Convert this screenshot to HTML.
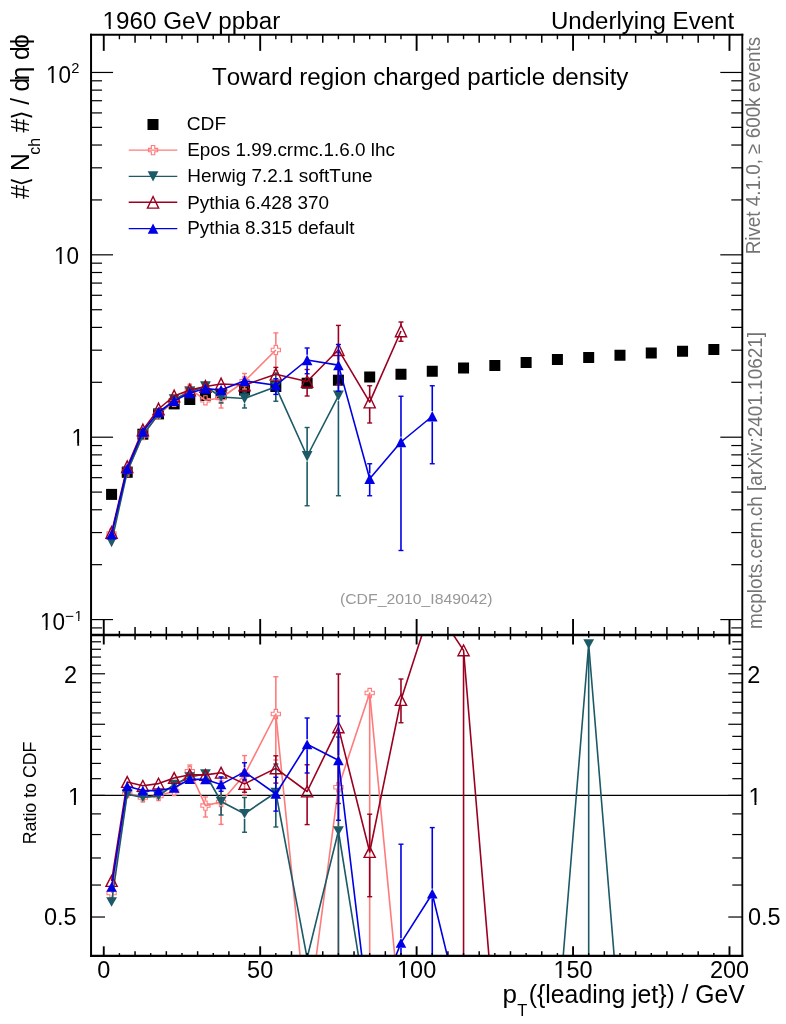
<!DOCTYPE html>
<html lang="en"><head><meta charset="utf-8"><title>Toward region charged particle density</title>
<style>html,body{margin:0;padding:0;background:#fff}svg{display:block}text{font-kerning:none}</style></head>
<body>
<svg width="786" height="1024" viewBox="0 0 786 1024" font-family="'Liberation Sans', 'DejaVu Sans', sans-serif">
<rect width="786" height="1024" fill="#fff"/>
<defs><clipPath id="cm"><rect x="91.05" y="34.85" width="651.25" height="600.15"/></clipPath><clipPath id="cr"><rect x="91.05" y="635.0" width="651.25" height="320.9"/></clipPath></defs>
<g id="main">
<rect x="106.08" y="488.90" width="11.00" height="11.00" fill="#000"/>
<rect x="121.72" y="466.80" width="11.00" height="11.00" fill="#000"/>
<rect x="137.37" y="428.70" width="11.00" height="11.00" fill="#000"/>
<rect x="153.01" y="408.40" width="11.00" height="11.00" fill="#000"/>
<rect x="168.65" y="398.40" width="11.00" height="11.00" fill="#000"/>
<rect x="184.30" y="394.00" width="11.00" height="11.00" fill="#000"/>
<rect x="199.94" y="390.00" width="11.00" height="11.00" fill="#000"/>
<rect x="215.58" y="388.50" width="11.00" height="11.00" fill="#000"/>
<rect x="239.05" y="384.50" width="11.00" height="11.00" fill="#000"/>
<rect x="270.33" y="381.00" width="11.00" height="11.00" fill="#000"/>
<rect x="301.62" y="377.70" width="11.00" height="11.00" fill="#000"/>
<rect x="332.91" y="374.70" width="11.00" height="11.00" fill="#000"/>
<rect x="364.19" y="371.50" width="11.00" height="11.00" fill="#000"/>
<rect x="395.48" y="368.75" width="11.00" height="11.00" fill="#000"/>
<rect x="426.76" y="365.75" width="11.00" height="11.00" fill="#000"/>
<rect x="458.05" y="362.50" width="11.00" height="11.00" fill="#000"/>
<rect x="489.33" y="360.00" width="11.00" height="11.00" fill="#000"/>
<rect x="520.62" y="357.00" width="11.00" height="11.00" fill="#000"/>
<rect x="551.91" y="354.00" width="11.00" height="11.00" fill="#000"/>
<rect x="583.19" y="352.00" width="11.00" height="11.00" fill="#000"/>
<rect x="614.48" y="349.75" width="11.00" height="11.00" fill="#000"/>
<rect x="645.76" y="347.50" width="11.00" height="11.00" fill="#000"/>
<rect x="677.05" y="345.75" width="11.00" height="11.00" fill="#000"/>
<rect x="708.34" y="344.00" width="11.00" height="11.00" fill="#000"/>
<polyline points="111.58,533.50 127.22,471.50 142.87,435.20 158.51,414.20 174.15,401.90 189.80,388.60 205.44,400.30 221.08,398.00 244.55,381.25 275.83,350.00" fill="none" stroke="#FF7B7B" stroke-width="1.6" stroke-linejoin="round" clip-path="url(#cm)"/>
<line x1="221.08" y1="388.50" x2="221.08" y2="392.70" stroke="#FF7B7B" stroke-width="1.6" clip-path="url(#cm)"/>
<line x1="218.58" y1="388.50" x2="223.58" y2="388.50" stroke="#FF7B7B" stroke-width="1.4"/>
<line x1="221.08" y1="403.30" x2="221.08" y2="408.00" stroke="#FF7B7B" stroke-width="1.6" clip-path="url(#cm)"/>
<line x1="218.58" y1="408.00" x2="223.58" y2="408.00" stroke="#FF7B7B" stroke-width="1.4"/>
<line x1="244.55" y1="373.50" x2="244.55" y2="375.95" stroke="#FF7B7B" stroke-width="1.6" clip-path="url(#cm)"/>
<line x1="242.05" y1="373.50" x2="247.05" y2="373.50" stroke="#FF7B7B" stroke-width="1.4"/>
<line x1="244.55" y1="386.55" x2="244.55" y2="389.00" stroke="#FF7B7B" stroke-width="1.6" clip-path="url(#cm)"/>
<line x1="242.05" y1="389.00" x2="247.05" y2="389.00" stroke="#FF7B7B" stroke-width="1.4"/>
<line x1="275.83" y1="332.90" x2="275.83" y2="344.70" stroke="#FF7B7B" stroke-width="1.6" clip-path="url(#cm)"/>
<line x1="273.33" y1="332.90" x2="278.33" y2="332.90" stroke="#FF7B7B" stroke-width="1.4"/>
<line x1="275.83" y1="355.30" x2="275.83" y2="370.50" stroke="#FF7B7B" stroke-width="1.6" clip-path="url(#cm)"/>
<line x1="273.33" y1="370.50" x2="278.33" y2="370.50" stroke="#FF7B7B" stroke-width="1.4"/>
<path d="M109.88 528.90H113.28V531.80H116.18V535.20H113.28V538.10H109.88V535.20H106.98V531.80H109.88Z" fill="none" stroke="#FF7B7B" stroke-width="1.1"/>
<path d="M125.52 466.90H128.92V469.80H131.82V473.20H128.92V476.10H125.52V473.20H122.62V469.80H125.52Z" fill="none" stroke="#FF7B7B" stroke-width="1.1"/>
<path d="M141.17 430.60H144.57V433.50H147.47V436.90H144.57V439.80H141.17V436.90H138.27V433.50H141.17Z" fill="none" stroke="#FF7B7B" stroke-width="1.1"/>
<path d="M156.81 409.60H160.21V412.50H163.11V415.90H160.21V418.80H156.81V415.90H153.91V412.50H156.81Z" fill="none" stroke="#FF7B7B" stroke-width="1.1"/>
<path d="M172.45 397.30H175.85V400.20H178.75V403.60H175.85V406.50H172.45V403.60H169.55V400.20H172.45Z" fill="none" stroke="#FF7B7B" stroke-width="1.1"/>
<path d="M188.10 384.00H191.50V386.90H194.40V390.30H191.50V393.20H188.10V390.30H185.20V386.90H188.10Z" fill="none" stroke="#FF7B7B" stroke-width="1.1"/>
<path d="M203.74 395.70H207.14V398.60H210.04V402.00H207.14V404.90H203.74V402.00H200.84V398.60H203.74Z" fill="none" stroke="#FF7B7B" stroke-width="1.1"/>
<path d="M219.38 393.40H222.78V396.30H225.68V399.70H222.78V402.60H219.38V399.70H216.48V396.30H219.38Z" fill="none" stroke="#FF7B7B" stroke-width="1.1"/>
<path d="M242.85 376.65H246.25V379.55H249.15V382.95H246.25V385.85H242.85V382.95H239.95V379.55H242.85Z" fill="none" stroke="#FF7B7B" stroke-width="1.1"/>
<path d="M274.13 345.40H277.53V348.30H280.43V351.70H277.53V354.60H274.13V351.70H271.23V348.30H274.13Z" fill="none" stroke="#FF7B7B" stroke-width="1.1"/>
<polyline points="111.58,542.00 127.22,471.80 142.87,435.10 158.51,414.20 174.15,399.50 189.80,391.80 205.44,386.50 221.08,397.00 244.55,398.50 275.83,386.80 307.12,456.25 338.41,395.80" fill="none" stroke="#1B5A66" stroke-width="1.6" stroke-linejoin="round" clip-path="url(#cm)"/>
<line x1="221.08" y1="391.00" x2="221.08" y2="391.70" stroke="#1B5A66" stroke-width="1.6" clip-path="url(#cm)"/>
<line x1="218.58" y1="391.00" x2="223.58" y2="391.00" stroke="#1B5A66" stroke-width="1.4"/>
<line x1="221.08" y1="402.30" x2="221.08" y2="403.00" stroke="#1B5A66" stroke-width="1.6" clip-path="url(#cm)"/>
<line x1="218.58" y1="403.00" x2="223.58" y2="403.00" stroke="#1B5A66" stroke-width="1.4"/>
<line x1="244.55" y1="392.00" x2="244.55" y2="393.20" stroke="#1B5A66" stroke-width="1.6" clip-path="url(#cm)"/>
<line x1="242.05" y1="392.00" x2="247.05" y2="392.00" stroke="#1B5A66" stroke-width="1.4"/>
<line x1="244.55" y1="403.80" x2="244.55" y2="408.00" stroke="#1B5A66" stroke-width="1.6" clip-path="url(#cm)"/>
<line x1="242.05" y1="408.00" x2="247.05" y2="408.00" stroke="#1B5A66" stroke-width="1.4"/>
<line x1="275.83" y1="373.00" x2="275.83" y2="381.50" stroke="#1B5A66" stroke-width="1.6" clip-path="url(#cm)"/>
<line x1="273.33" y1="373.00" x2="278.33" y2="373.00" stroke="#1B5A66" stroke-width="1.4"/>
<line x1="275.83" y1="392.10" x2="275.83" y2="401.25" stroke="#1B5A66" stroke-width="1.6" clip-path="url(#cm)"/>
<line x1="273.33" y1="401.25" x2="278.33" y2="401.25" stroke="#1B5A66" stroke-width="1.4"/>
<line x1="307.12" y1="427.50" x2="307.12" y2="450.95" stroke="#1B5A66" stroke-width="1.6" clip-path="url(#cm)"/>
<line x1="304.62" y1="427.50" x2="309.62" y2="427.50" stroke="#1B5A66" stroke-width="1.4"/>
<line x1="307.12" y1="461.55" x2="307.12" y2="505.75" stroke="#1B5A66" stroke-width="1.6" clip-path="url(#cm)"/>
<line x1="304.62" y1="505.75" x2="309.62" y2="505.75" stroke="#1B5A66" stroke-width="1.4"/>
<line x1="338.41" y1="352.60" x2="338.41" y2="390.50" stroke="#1B5A66" stroke-width="1.6" clip-path="url(#cm)"/>
<line x1="335.91" y1="352.60" x2="340.91" y2="352.60" stroke="#1B5A66" stroke-width="1.4"/>
<line x1="338.41" y1="401.10" x2="338.41" y2="495.75" stroke="#1B5A66" stroke-width="1.6" clip-path="url(#cm)"/>
<line x1="335.91" y1="495.75" x2="340.91" y2="495.75" stroke="#1B5A66" stroke-width="1.4"/>
<path d="M106.18 536.80L116.98 536.80L111.58 547.20Z" fill="#1B5A66"/>
<path d="M121.82 466.60L132.62 466.60L127.22 477.00Z" fill="#1B5A66"/>
<path d="M137.47 429.90L148.27 429.90L142.87 440.30Z" fill="#1B5A66"/>
<path d="M153.11 409.00L163.91 409.00L158.51 419.40Z" fill="#1B5A66"/>
<path d="M168.75 394.30L179.55 394.30L174.15 404.70Z" fill="#1B5A66"/>
<path d="M184.40 386.60L195.20 386.60L189.80 397.00Z" fill="#1B5A66"/>
<path d="M200.04 381.30L210.84 381.30L205.44 391.70Z" fill="#1B5A66"/>
<path d="M215.68 391.80L226.48 391.80L221.08 402.20Z" fill="#1B5A66"/>
<path d="M239.15 393.30L249.95 393.30L244.55 403.70Z" fill="#1B5A66"/>
<path d="M270.43 381.60L281.23 381.60L275.83 392.00Z" fill="#1B5A66"/>
<path d="M301.72 451.05L312.52 451.05L307.12 461.45Z" fill="#1B5A66"/>
<path d="M333.01 390.60L343.81 390.60L338.41 401.00Z" fill="#1B5A66"/>
<polyline points="111.58,532.50 127.22,466.75 142.87,429.90 158.51,409.00 174.15,396.00 189.80,390.00 205.44,386.50 221.08,384.00 244.55,385.00 275.83,374.30 307.12,381.50 338.41,349.70 369.69,402.10 400.98,331.00" fill="none" stroke="#9B0020" stroke-width="1.6" stroke-linejoin="round" clip-path="url(#cm)"/>
<line x1="275.83" y1="367.40" x2="275.83" y2="369.00" stroke="#9B0020" stroke-width="1.6" clip-path="url(#cm)"/>
<line x1="273.33" y1="367.40" x2="278.33" y2="367.40" stroke="#9B0020" stroke-width="1.4"/>
<line x1="275.83" y1="379.60" x2="275.83" y2="381.20" stroke="#9B0020" stroke-width="1.6" clip-path="url(#cm)"/>
<line x1="273.33" y1="381.20" x2="278.33" y2="381.20" stroke="#9B0020" stroke-width="1.4"/>
<line x1="307.12" y1="369.50" x2="307.12" y2="376.20" stroke="#9B0020" stroke-width="1.6" clip-path="url(#cm)"/>
<line x1="304.62" y1="369.50" x2="309.62" y2="369.50" stroke="#9B0020" stroke-width="1.4"/>
<line x1="307.12" y1="386.80" x2="307.12" y2="396.00" stroke="#9B0020" stroke-width="1.6" clip-path="url(#cm)"/>
<line x1="304.62" y1="396.00" x2="309.62" y2="396.00" stroke="#9B0020" stroke-width="1.4"/>
<line x1="338.41" y1="325.40" x2="338.41" y2="344.40" stroke="#9B0020" stroke-width="1.6" clip-path="url(#cm)"/>
<line x1="335.91" y1="325.40" x2="340.91" y2="325.40" stroke="#9B0020" stroke-width="1.4"/>
<line x1="338.41" y1="355.00" x2="338.41" y2="384.30" stroke="#9B0020" stroke-width="1.6" clip-path="url(#cm)"/>
<line x1="335.91" y1="384.30" x2="340.91" y2="384.30" stroke="#9B0020" stroke-width="1.4"/>
<line x1="369.69" y1="385.75" x2="369.69" y2="396.80" stroke="#9B0020" stroke-width="1.6" clip-path="url(#cm)"/>
<line x1="367.19" y1="385.75" x2="372.19" y2="385.75" stroke="#9B0020" stroke-width="1.4"/>
<line x1="369.69" y1="407.40" x2="369.69" y2="423.00" stroke="#9B0020" stroke-width="1.6" clip-path="url(#cm)"/>
<line x1="367.19" y1="423.00" x2="372.19" y2="423.00" stroke="#9B0020" stroke-width="1.4"/>
<line x1="400.98" y1="322.00" x2="400.98" y2="325.70" stroke="#9B0020" stroke-width="1.6" clip-path="url(#cm)"/>
<line x1="398.48" y1="322.00" x2="403.48" y2="322.00" stroke="#9B0020" stroke-width="1.4"/>
<line x1="400.98" y1="336.30" x2="400.98" y2="341.25" stroke="#9B0020" stroke-width="1.6" clip-path="url(#cm)"/>
<line x1="398.48" y1="341.25" x2="403.48" y2="341.25" stroke="#9B0020" stroke-width="1.4"/>
<path d="M105.98 538.30L117.18 538.30L111.58 526.70Z" fill="none" stroke="#9B0020" stroke-width="1.4" stroke-linejoin="miter"/>
<path d="M121.62 472.55L132.82 472.55L127.22 460.95Z" fill="none" stroke="#9B0020" stroke-width="1.4" stroke-linejoin="miter"/>
<path d="M137.27 435.70L148.47 435.70L142.87 424.10Z" fill="none" stroke="#9B0020" stroke-width="1.4" stroke-linejoin="miter"/>
<path d="M152.91 414.80L164.11 414.80L158.51 403.20Z" fill="none" stroke="#9B0020" stroke-width="1.4" stroke-linejoin="miter"/>
<path d="M168.55 401.80L179.75 401.80L174.15 390.20Z" fill="none" stroke="#9B0020" stroke-width="1.4" stroke-linejoin="miter"/>
<path d="M184.20 395.80L195.40 395.80L189.80 384.20Z" fill="none" stroke="#9B0020" stroke-width="1.4" stroke-linejoin="miter"/>
<path d="M199.84 392.30L211.04 392.30L205.44 380.70Z" fill="none" stroke="#9B0020" stroke-width="1.4" stroke-linejoin="miter"/>
<path d="M215.48 389.80L226.68 389.80L221.08 378.20Z" fill="none" stroke="#9B0020" stroke-width="1.4" stroke-linejoin="miter"/>
<path d="M238.95 390.80L250.15 390.80L244.55 379.20Z" fill="none" stroke="#9B0020" stroke-width="1.4" stroke-linejoin="miter"/>
<path d="M270.23 380.10L281.43 380.10L275.83 368.50Z" fill="none" stroke="#9B0020" stroke-width="1.4" stroke-linejoin="miter"/>
<path d="M301.52 387.30L312.72 387.30L307.12 375.70Z" fill="none" stroke="#9B0020" stroke-width="1.4" stroke-linejoin="miter"/>
<path d="M332.81 355.50L344.01 355.50L338.41 343.90Z" fill="none" stroke="#9B0020" stroke-width="1.4" stroke-linejoin="miter"/>
<path d="M364.09 407.90L375.29 407.90L369.69 396.30Z" fill="none" stroke="#9B0020" stroke-width="1.4" stroke-linejoin="miter"/>
<path d="M395.38 336.80L406.58 336.80L400.98 325.20Z" fill="none" stroke="#9B0020" stroke-width="1.4" stroke-linejoin="miter"/>
<polyline points="111.58,534.40 127.22,468.60 142.87,431.60 158.51,412.00 174.15,400.90 189.80,393.00 205.44,388.60 221.08,390.00 244.55,380.80 275.83,385.30 307.12,360.00 338.41,365.10 369.69,478.75 400.98,442.00 432.26,416.25" fill="none" stroke="#0000E6" stroke-width="1.6" stroke-linejoin="round" clip-path="url(#cm)"/>
<line x1="275.83" y1="378.75" x2="275.83" y2="380.00" stroke="#0000E6" stroke-width="1.6" clip-path="url(#cm)"/>
<line x1="273.33" y1="378.75" x2="278.33" y2="378.75" stroke="#0000E6" stroke-width="1.4"/>
<line x1="275.83" y1="390.60" x2="275.83" y2="394.40" stroke="#0000E6" stroke-width="1.6" clip-path="url(#cm)"/>
<line x1="273.33" y1="394.40" x2="278.33" y2="394.40" stroke="#0000E6" stroke-width="1.4"/>
<line x1="307.12" y1="348.00" x2="307.12" y2="354.70" stroke="#0000E6" stroke-width="1.6" clip-path="url(#cm)"/>
<line x1="304.62" y1="348.00" x2="309.62" y2="348.00" stroke="#0000E6" stroke-width="1.4"/>
<line x1="307.12" y1="365.30" x2="307.12" y2="373.75" stroke="#0000E6" stroke-width="1.6" clip-path="url(#cm)"/>
<line x1="304.62" y1="373.75" x2="309.62" y2="373.75" stroke="#0000E6" stroke-width="1.4"/>
<line x1="338.41" y1="344.50" x2="338.41" y2="359.80" stroke="#0000E6" stroke-width="1.6" clip-path="url(#cm)"/>
<line x1="335.91" y1="344.50" x2="340.91" y2="344.50" stroke="#0000E6" stroke-width="1.4"/>
<line x1="338.41" y1="370.40" x2="338.41" y2="391.30" stroke="#0000E6" stroke-width="1.6" clip-path="url(#cm)"/>
<line x1="335.91" y1="391.30" x2="340.91" y2="391.30" stroke="#0000E6" stroke-width="1.4"/>
<line x1="369.69" y1="463.75" x2="369.69" y2="473.45" stroke="#0000E6" stroke-width="1.6" clip-path="url(#cm)"/>
<line x1="367.19" y1="463.75" x2="372.19" y2="463.75" stroke="#0000E6" stroke-width="1.4"/>
<line x1="369.69" y1="484.05" x2="369.69" y2="495.75" stroke="#0000E6" stroke-width="1.6" clip-path="url(#cm)"/>
<line x1="367.19" y1="495.75" x2="372.19" y2="495.75" stroke="#0000E6" stroke-width="1.4"/>
<line x1="400.98" y1="396.25" x2="400.98" y2="436.70" stroke="#0000E6" stroke-width="1.6" clip-path="url(#cm)"/>
<line x1="398.48" y1="396.25" x2="403.48" y2="396.25" stroke="#0000E6" stroke-width="1.4"/>
<line x1="400.98" y1="447.30" x2="400.98" y2="550.50" stroke="#0000E6" stroke-width="1.6" clip-path="url(#cm)"/>
<line x1="398.48" y1="550.50" x2="403.48" y2="550.50" stroke="#0000E6" stroke-width="1.4"/>
<line x1="432.26" y1="385.75" x2="432.26" y2="410.95" stroke="#0000E6" stroke-width="1.6" clip-path="url(#cm)"/>
<line x1="429.76" y1="385.75" x2="434.76" y2="385.75" stroke="#0000E6" stroke-width="1.4"/>
<line x1="432.26" y1="421.55" x2="432.26" y2="463.75" stroke="#0000E6" stroke-width="1.6" clip-path="url(#cm)"/>
<line x1="429.76" y1="463.75" x2="434.76" y2="463.75" stroke="#0000E6" stroke-width="1.4"/>
<path d="M106.28 539.60L116.88 539.60L111.58 529.20Z" fill="#0000E6"/>
<path d="M121.92 473.80L132.52 473.80L127.22 463.40Z" fill="#0000E6"/>
<path d="M137.57 436.80L148.17 436.80L142.87 426.40Z" fill="#0000E6"/>
<path d="M153.21 417.20L163.81 417.20L158.51 406.80Z" fill="#0000E6"/>
<path d="M168.85 406.10L179.45 406.10L174.15 395.70Z" fill="#0000E6"/>
<path d="M184.50 398.20L195.10 398.20L189.80 387.80Z" fill="#0000E6"/>
<path d="M200.14 393.80L210.74 393.80L205.44 383.40Z" fill="#0000E6"/>
<path d="M215.78 395.20L226.38 395.20L221.08 384.80Z" fill="#0000E6"/>
<path d="M239.25 386.00L249.85 386.00L244.55 375.60Z" fill="#0000E6"/>
<path d="M270.53 390.50L281.13 390.50L275.83 380.10Z" fill="#0000E6"/>
<path d="M301.82 365.20L312.42 365.20L307.12 354.80Z" fill="#0000E6"/>
<path d="M333.11 370.30L343.71 370.30L338.41 359.90Z" fill="#0000E6"/>
<path d="M364.39 483.95L374.99 483.95L369.69 473.55Z" fill="#0000E6"/>
<path d="M395.68 447.20L406.28 447.20L400.98 436.80Z" fill="#0000E6"/>
<path d="M426.96 421.45L437.56 421.45L432.26 411.05Z" fill="#0000E6"/>
</g>
<g id="ratio">
<line x1="91.05" y1="795.40" x2="742.30" y2="795.40" stroke="#000" stroke-width="1.1" />
<polyline points="111.58,893.00 127.22,793.00 142.87,797.50 158.51,796.00 174.15,791.00 189.80,771.25 205.44,805.60 221.08,802.00 244.55,774.75 275.83,714.00 307.12,1026.00 338.41,787.25 369.69,693.00 400.98,1021.00" fill="none" stroke="#FF7B7B" stroke-width="1.6" stroke-linejoin="round" clip-path="url(#cr)"/>
<line x1="189.80" y1="765.00" x2="189.80" y2="766.25" stroke="#FF7B7B" stroke-width="1.6" clip-path="url(#cr)"/>
<line x1="187.30" y1="765.00" x2="192.30" y2="765.00" stroke="#FF7B7B" stroke-width="1.4"/>
<line x1="189.80" y1="776.25" x2="189.80" y2="777.50" stroke="#FF7B7B" stroke-width="1.6" clip-path="url(#cr)"/>
<line x1="187.30" y1="777.50" x2="192.30" y2="777.50" stroke="#FF7B7B" stroke-width="1.4"/>
<line x1="205.44" y1="797.00" x2="205.44" y2="800.60" stroke="#FF7B7B" stroke-width="1.6" clip-path="url(#cr)"/>
<line x1="202.94" y1="797.00" x2="207.94" y2="797.00" stroke="#FF7B7B" stroke-width="1.4"/>
<line x1="205.44" y1="810.60" x2="205.44" y2="817.00" stroke="#FF7B7B" stroke-width="1.6" clip-path="url(#cr)"/>
<line x1="202.94" y1="817.00" x2="207.94" y2="817.00" stroke="#FF7B7B" stroke-width="1.4"/>
<line x1="221.08" y1="781.00" x2="221.08" y2="797.00" stroke="#FF7B7B" stroke-width="1.6" clip-path="url(#cr)"/>
<line x1="218.58" y1="781.00" x2="223.58" y2="781.00" stroke="#FF7B7B" stroke-width="1.4"/>
<line x1="221.08" y1="807.00" x2="221.08" y2="824.40" stroke="#FF7B7B" stroke-width="1.6" clip-path="url(#cr)"/>
<line x1="218.58" y1="824.40" x2="223.58" y2="824.40" stroke="#FF7B7B" stroke-width="1.4"/>
<line x1="244.55" y1="755.60" x2="244.55" y2="769.75" stroke="#FF7B7B" stroke-width="1.6" clip-path="url(#cr)"/>
<line x1="242.05" y1="755.60" x2="247.05" y2="755.60" stroke="#FF7B7B" stroke-width="1.4"/>
<line x1="244.55" y1="779.75" x2="244.55" y2="795.00" stroke="#FF7B7B" stroke-width="1.6" clip-path="url(#cr)"/>
<line x1="242.05" y1="795.00" x2="247.05" y2="795.00" stroke="#FF7B7B" stroke-width="1.4"/>
<line x1="275.83" y1="676.75" x2="275.83" y2="709.00" stroke="#FF7B7B" stroke-width="1.6" clip-path="url(#cr)"/>
<line x1="273.33" y1="676.75" x2="278.33" y2="676.75" stroke="#FF7B7B" stroke-width="1.4"/>
<line x1="275.83" y1="719.00" x2="275.83" y2="760.00" stroke="#FF7B7B" stroke-width="1.6" clip-path="url(#cr)"/>
<line x1="273.33" y1="760.00" x2="278.33" y2="760.00" stroke="#FF7B7B" stroke-width="1.4"/>
<line x1="338.41" y1="760.00" x2="338.41" y2="782.25" stroke="#FF7B7B" stroke-width="1.6" clip-path="url(#cr)"/>
<line x1="335.91" y1="760.00" x2="340.91" y2="760.00" stroke="#FF7B7B" stroke-width="1.4"/>
<line x1="338.41" y1="792.25" x2="338.41" y2="990.00" stroke="#FF7B7B" stroke-width="1.6" clip-path="url(#cr)"/>
<line x1="369.69" y1="698.00" x2="369.69" y2="990.00" stroke="#FF7B7B" stroke-width="1.6" clip-path="url(#cr)"/>
<path d="M109.88 888.40H113.28V891.30H116.18V894.70H113.28V897.60H109.88V894.70H106.98V891.30H109.88Z" fill="none" stroke="#FF7B7B" stroke-width="1.1"/>
<path d="M125.52 788.40H128.92V791.30H131.82V794.70H128.92V797.60H125.52V794.70H122.62V791.30H125.52Z" fill="none" stroke="#FF7B7B" stroke-width="1.1"/>
<path d="M141.17 792.90H144.57V795.80H147.47V799.20H144.57V802.10H141.17V799.20H138.27V795.80H141.17Z" fill="none" stroke="#FF7B7B" stroke-width="1.1"/>
<path d="M156.81 791.40H160.21V794.30H163.11V797.70H160.21V800.60H156.81V797.70H153.91V794.30H156.81Z" fill="none" stroke="#FF7B7B" stroke-width="1.1"/>
<path d="M172.45 786.40H175.85V789.30H178.75V792.70H175.85V795.60H172.45V792.70H169.55V789.30H172.45Z" fill="none" stroke="#FF7B7B" stroke-width="1.1"/>
<path d="M188.10 766.65H191.50V769.55H194.40V772.95H191.50V775.85H188.10V772.95H185.20V769.55H188.10Z" fill="none" stroke="#FF7B7B" stroke-width="1.1"/>
<path d="M203.74 801.00H207.14V803.90H210.04V807.30H207.14V810.20H203.74V807.30H200.84V803.90H203.74Z" fill="none" stroke="#FF7B7B" stroke-width="1.1"/>
<path d="M219.38 797.40H222.78V800.30H225.68V803.70H222.78V806.60H219.38V803.70H216.48V800.30H219.38Z" fill="none" stroke="#FF7B7B" stroke-width="1.1"/>
<path d="M242.85 770.15H246.25V773.05H249.15V776.45H246.25V779.35H242.85V776.45H239.95V773.05H242.85Z" fill="none" stroke="#FF7B7B" stroke-width="1.1"/>
<path d="M274.13 709.40H277.53V712.30H280.43V715.70H277.53V718.60H274.13V715.70H271.23V712.30H274.13Z" fill="none" stroke="#FF7B7B" stroke-width="1.1"/>
<path d="M336.71 782.65H340.11V785.55H343.01V788.95H340.11V791.85H336.71V788.95H333.81V785.55H336.71Z" fill="none" stroke="#FF7B7B" stroke-width="1.1"/>
<path d="M367.99 688.40H371.39V691.30H374.29V694.70H371.39V697.60H367.99V694.70H365.09V691.30H367.99Z" fill="none" stroke="#FF7B7B" stroke-width="1.1"/>
<polyline points="111.58,902.00 127.22,794.25 142.87,797.40 158.51,796.00 174.15,784.50 189.80,777.00 205.44,774.00 221.08,801.50 244.55,813.75 275.83,792.50 307.12,958.00 338.41,831.00 369.69,1026.00" fill="none" stroke="#1B5A66" stroke-width="1.6" stroke-linejoin="round" clip-path="url(#cr)"/>
<polyline points="557.41,1027.00 588.69,644.20 619.98,1027.00" fill="none" stroke="#1B5A66" stroke-width="1.6" stroke-linejoin="round" clip-path="url(#cr)"/>
<line x1="221.08" y1="788.50" x2="221.08" y2="796.50" stroke="#1B5A66" stroke-width="1.6" clip-path="url(#cr)"/>
<line x1="218.58" y1="788.50" x2="223.58" y2="788.50" stroke="#1B5A66" stroke-width="1.4"/>
<line x1="221.08" y1="806.50" x2="221.08" y2="815.00" stroke="#1B5A66" stroke-width="1.6" clip-path="url(#cr)"/>
<line x1="218.58" y1="815.00" x2="223.58" y2="815.00" stroke="#1B5A66" stroke-width="1.4"/>
<line x1="244.55" y1="797.50" x2="244.55" y2="808.75" stroke="#1B5A66" stroke-width="1.6" clip-path="url(#cr)"/>
<line x1="242.05" y1="797.50" x2="247.05" y2="797.50" stroke="#1B5A66" stroke-width="1.4"/>
<line x1="244.55" y1="818.75" x2="244.55" y2="832.25" stroke="#1B5A66" stroke-width="1.6" clip-path="url(#cr)"/>
<line x1="242.05" y1="832.25" x2="247.05" y2="832.25" stroke="#1B5A66" stroke-width="1.4"/>
<line x1="275.83" y1="764.00" x2="275.83" y2="787.50" stroke="#1B5A66" stroke-width="1.6" clip-path="url(#cr)"/>
<line x1="273.33" y1="764.00" x2="278.33" y2="764.00" stroke="#1B5A66" stroke-width="1.4"/>
<line x1="275.83" y1="797.50" x2="275.83" y2="827.00" stroke="#1B5A66" stroke-width="1.6" clip-path="url(#cr)"/>
<line x1="273.33" y1="827.00" x2="278.33" y2="827.00" stroke="#1B5A66" stroke-width="1.4"/>
<line x1="338.41" y1="737.00" x2="338.41" y2="826.00" stroke="#1B5A66" stroke-width="1.6" clip-path="url(#cr)"/>
<line x1="335.91" y1="737.00" x2="340.91" y2="737.00" stroke="#1B5A66" stroke-width="1.4"/>
<line x1="338.41" y1="836.00" x2="338.41" y2="990.00" stroke="#1B5A66" stroke-width="1.6" clip-path="url(#cr)"/>
<line x1="588.69" y1="649.20" x2="588.69" y2="990.00" stroke="#1B5A66" stroke-width="1.6" clip-path="url(#cr)"/>
<path d="M106.18 897.16L116.98 897.16L111.58 906.84Z" fill="#1B5A66"/>
<path d="M121.82 789.41L132.62 789.41L127.22 799.09Z" fill="#1B5A66"/>
<path d="M137.47 792.56L148.27 792.56L142.87 802.24Z" fill="#1B5A66"/>
<path d="M153.11 791.16L163.91 791.16L158.51 800.84Z" fill="#1B5A66"/>
<path d="M168.75 779.66L179.55 779.66L174.15 789.34Z" fill="#1B5A66"/>
<path d="M184.40 772.16L195.20 772.16L189.80 781.84Z" fill="#1B5A66"/>
<path d="M200.04 769.16L210.84 769.16L205.44 778.84Z" fill="#1B5A66"/>
<path d="M215.68 796.66L226.48 796.66L221.08 806.34Z" fill="#1B5A66"/>
<path d="M239.15 808.91L249.95 808.91L244.55 818.59Z" fill="#1B5A66"/>
<path d="M270.43 787.66L281.23 787.66L275.83 797.34Z" fill="#1B5A66"/>
<path d="M333.01 826.16L343.81 826.16L338.41 835.84Z" fill="#1B5A66"/>
<path d="M583.29 639.36L594.09 639.36L588.69 649.04Z" fill="#1B5A66"/>
<polyline points="111.58,881.00 127.22,782.00 142.87,785.80 158.51,783.60 174.15,778.00 189.80,774.70 205.44,774.90 221.08,772.70 244.55,783.90 275.83,768.40 307.12,791.50 338.41,727.40 369.69,852.00 400.98,700.00 432.26,603.00 463.55,650.40 494.83,1027.00" fill="none" stroke="#9B0020" stroke-width="1.6" stroke-linejoin="round" clip-path="url(#cr)"/>
<line x1="244.55" y1="774.75" x2="244.55" y2="778.90" stroke="#9B0020" stroke-width="1.6" clip-path="url(#cr)"/>
<line x1="242.05" y1="774.75" x2="247.05" y2="774.75" stroke="#9B0020" stroke-width="1.4"/>
<line x1="244.55" y1="788.90" x2="244.55" y2="792.25" stroke="#9B0020" stroke-width="1.6" clip-path="url(#cr)"/>
<line x1="242.05" y1="792.25" x2="247.05" y2="792.25" stroke="#9B0020" stroke-width="1.4"/>
<line x1="275.83" y1="755.80" x2="275.83" y2="763.40" stroke="#9B0020" stroke-width="1.6" clip-path="url(#cr)"/>
<line x1="273.33" y1="755.80" x2="278.33" y2="755.80" stroke="#9B0020" stroke-width="1.4"/>
<line x1="275.83" y1="773.40" x2="275.83" y2="783.10" stroke="#9B0020" stroke-width="1.6" clip-path="url(#cr)"/>
<line x1="273.33" y1="783.10" x2="278.33" y2="783.10" stroke="#9B0020" stroke-width="1.4"/>
<line x1="307.12" y1="764.75" x2="307.12" y2="786.50" stroke="#9B0020" stroke-width="1.6" clip-path="url(#cr)"/>
<line x1="304.62" y1="764.75" x2="309.62" y2="764.75" stroke="#9B0020" stroke-width="1.4"/>
<line x1="307.12" y1="796.50" x2="307.12" y2="824.60" stroke="#9B0020" stroke-width="1.6" clip-path="url(#cr)"/>
<line x1="304.62" y1="824.60" x2="309.62" y2="824.60" stroke="#9B0020" stroke-width="1.4"/>
<line x1="338.41" y1="674.00" x2="338.41" y2="722.40" stroke="#9B0020" stroke-width="1.6" clip-path="url(#cr)"/>
<line x1="335.91" y1="674.00" x2="340.91" y2="674.00" stroke="#9B0020" stroke-width="1.4"/>
<line x1="338.41" y1="732.40" x2="338.41" y2="803.50" stroke="#9B0020" stroke-width="1.6" clip-path="url(#cr)"/>
<line x1="335.91" y1="803.50" x2="340.91" y2="803.50" stroke="#9B0020" stroke-width="1.4"/>
<line x1="369.69" y1="814.20" x2="369.69" y2="847.00" stroke="#9B0020" stroke-width="1.6" clip-path="url(#cr)"/>
<line x1="367.19" y1="814.20" x2="372.19" y2="814.20" stroke="#9B0020" stroke-width="1.4"/>
<line x1="369.69" y1="857.00" x2="369.69" y2="896.70" stroke="#9B0020" stroke-width="1.6" clip-path="url(#cr)"/>
<line x1="367.19" y1="896.70" x2="372.19" y2="896.70" stroke="#9B0020" stroke-width="1.4"/>
<line x1="400.98" y1="679.00" x2="400.98" y2="695.00" stroke="#9B0020" stroke-width="1.6" clip-path="url(#cr)"/>
<line x1="398.48" y1="679.00" x2="403.48" y2="679.00" stroke="#9B0020" stroke-width="1.4"/>
<line x1="400.98" y1="705.00" x2="400.98" y2="722.75" stroke="#9B0020" stroke-width="1.6" clip-path="url(#cr)"/>
<line x1="398.48" y1="722.75" x2="403.48" y2="722.75" stroke="#9B0020" stroke-width="1.4"/>
<line x1="463.55" y1="655.40" x2="463.55" y2="990.00" stroke="#9B0020" stroke-width="1.6" clip-path="url(#cr)"/>
<path d="M105.98 886.39L117.18 886.39L111.58 875.61Z" fill="none" stroke="#9B0020" stroke-width="1.4" stroke-linejoin="miter"/>
<path d="M121.62 787.39L132.82 787.39L127.22 776.61Z" fill="none" stroke="#9B0020" stroke-width="1.4" stroke-linejoin="miter"/>
<path d="M137.27 791.19L148.47 791.19L142.87 780.41Z" fill="none" stroke="#9B0020" stroke-width="1.4" stroke-linejoin="miter"/>
<path d="M152.91 788.99L164.11 788.99L158.51 778.21Z" fill="none" stroke="#9B0020" stroke-width="1.4" stroke-linejoin="miter"/>
<path d="M168.55 783.39L179.75 783.39L174.15 772.61Z" fill="none" stroke="#9B0020" stroke-width="1.4" stroke-linejoin="miter"/>
<path d="M184.20 780.09L195.40 780.09L189.80 769.31Z" fill="none" stroke="#9B0020" stroke-width="1.4" stroke-linejoin="miter"/>
<path d="M199.84 780.29L211.04 780.29L205.44 769.51Z" fill="none" stroke="#9B0020" stroke-width="1.4" stroke-linejoin="miter"/>
<path d="M215.48 778.09L226.68 778.09L221.08 767.31Z" fill="none" stroke="#9B0020" stroke-width="1.4" stroke-linejoin="miter"/>
<path d="M238.95 789.29L250.15 789.29L244.55 778.51Z" fill="none" stroke="#9B0020" stroke-width="1.4" stroke-linejoin="miter"/>
<path d="M270.23 773.79L281.43 773.79L275.83 763.01Z" fill="none" stroke="#9B0020" stroke-width="1.4" stroke-linejoin="miter"/>
<path d="M301.52 796.89L312.72 796.89L307.12 786.11Z" fill="none" stroke="#9B0020" stroke-width="1.4" stroke-linejoin="miter"/>
<path d="M332.81 732.79L344.01 732.79L338.41 722.01Z" fill="none" stroke="#9B0020" stroke-width="1.4" stroke-linejoin="miter"/>
<path d="M364.09 857.39L375.29 857.39L369.69 846.61Z" fill="none" stroke="#9B0020" stroke-width="1.4" stroke-linejoin="miter"/>
<path d="M395.38 705.39L406.58 705.39L400.98 694.61Z" fill="none" stroke="#9B0020" stroke-width="1.4" stroke-linejoin="miter"/>
<path d="M457.95 655.79L469.15 655.79L463.55 645.01Z" fill="none" stroke="#9B0020" stroke-width="1.4" stroke-linejoin="miter"/>
<polyline points="111.58,886.90 127.22,786.25 142.87,790.60 158.51,790.60 174.15,787.80 189.80,779.20 205.44,779.40 221.08,784.40 244.55,771.90 275.83,794.00 307.12,744.30 338.41,760.30 369.69,1022.00 400.98,942.90 432.26,893.70 463.55,1023.00" fill="none" stroke="#0000E6" stroke-width="1.6" stroke-linejoin="round" clip-path="url(#cr)"/>
<line x1="221.08" y1="776.90" x2="221.08" y2="779.40" stroke="#0000E6" stroke-width="1.6" clip-path="url(#cr)"/>
<line x1="218.58" y1="776.90" x2="223.58" y2="776.90" stroke="#0000E6" stroke-width="1.4"/>
<line x1="221.08" y1="789.40" x2="221.08" y2="791.25" stroke="#0000E6" stroke-width="1.6" clip-path="url(#cr)"/>
<line x1="218.58" y1="791.25" x2="223.58" y2="791.25" stroke="#0000E6" stroke-width="1.4"/>
<line x1="244.55" y1="762.75" x2="244.55" y2="766.90" stroke="#0000E6" stroke-width="1.6" clip-path="url(#cr)"/>
<line x1="242.05" y1="762.75" x2="247.05" y2="762.75" stroke="#0000E6" stroke-width="1.4"/>
<line x1="244.55" y1="776.90" x2="244.55" y2="780.00" stroke="#0000E6" stroke-width="1.6" clip-path="url(#cr)"/>
<line x1="242.05" y1="780.00" x2="247.05" y2="780.00" stroke="#0000E6" stroke-width="1.4"/>
<line x1="275.83" y1="777.25" x2="275.83" y2="789.00" stroke="#0000E6" stroke-width="1.6" clip-path="url(#cr)"/>
<line x1="273.33" y1="777.25" x2="278.33" y2="777.25" stroke="#0000E6" stroke-width="1.4"/>
<line x1="275.83" y1="799.00" x2="275.83" y2="811.10" stroke="#0000E6" stroke-width="1.6" clip-path="url(#cr)"/>
<line x1="273.33" y1="811.10" x2="278.33" y2="811.10" stroke="#0000E6" stroke-width="1.4"/>
<line x1="307.12" y1="718.00" x2="307.12" y2="739.30" stroke="#0000E6" stroke-width="1.6" clip-path="url(#cr)"/>
<line x1="304.62" y1="718.00" x2="309.62" y2="718.00" stroke="#0000E6" stroke-width="1.4"/>
<line x1="307.12" y1="749.30" x2="307.12" y2="773.00" stroke="#0000E6" stroke-width="1.6" clip-path="url(#cr)"/>
<line x1="304.62" y1="773.00" x2="309.62" y2="773.00" stroke="#0000E6" stroke-width="1.4"/>
<line x1="338.41" y1="716.00" x2="338.41" y2="755.30" stroke="#0000E6" stroke-width="1.6" clip-path="url(#cr)"/>
<line x1="335.91" y1="716.00" x2="340.91" y2="716.00" stroke="#0000E6" stroke-width="1.4"/>
<line x1="338.41" y1="765.30" x2="338.41" y2="820.25" stroke="#0000E6" stroke-width="1.6" clip-path="url(#cr)"/>
<line x1="335.91" y1="820.25" x2="340.91" y2="820.25" stroke="#0000E6" stroke-width="1.4"/>
<line x1="400.98" y1="844.20" x2="400.98" y2="937.90" stroke="#0000E6" stroke-width="1.6" clip-path="url(#cr)"/>
<line x1="398.48" y1="844.20" x2="403.48" y2="844.20" stroke="#0000E6" stroke-width="1.4"/>
<line x1="400.98" y1="947.90" x2="400.98" y2="990.00" stroke="#0000E6" stroke-width="1.6" clip-path="url(#cr)"/>
<line x1="432.26" y1="827.60" x2="432.26" y2="888.70" stroke="#0000E6" stroke-width="1.6" clip-path="url(#cr)"/>
<line x1="429.76" y1="827.60" x2="434.76" y2="827.60" stroke="#0000E6" stroke-width="1.4"/>
<line x1="432.26" y1="898.70" x2="432.26" y2="990.00" stroke="#0000E6" stroke-width="1.6" clip-path="url(#cr)"/>
<path d="M106.28 891.74L116.88 891.74L111.58 882.06Z" fill="#0000E6"/>
<path d="M121.92 791.09L132.52 791.09L127.22 781.41Z" fill="#0000E6"/>
<path d="M137.57 795.44L148.17 795.44L142.87 785.76Z" fill="#0000E6"/>
<path d="M153.21 795.44L163.81 795.44L158.51 785.76Z" fill="#0000E6"/>
<path d="M168.85 792.64L179.45 792.64L174.15 782.96Z" fill="#0000E6"/>
<path d="M184.50 784.04L195.10 784.04L189.80 774.36Z" fill="#0000E6"/>
<path d="M200.14 784.24L210.74 784.24L205.44 774.56Z" fill="#0000E6"/>
<path d="M215.78 789.24L226.38 789.24L221.08 779.56Z" fill="#0000E6"/>
<path d="M239.25 776.74L249.85 776.74L244.55 767.06Z" fill="#0000E6"/>
<path d="M270.53 798.84L281.13 798.84L275.83 789.16Z" fill="#0000E6"/>
<path d="M301.82 749.14L312.42 749.14L307.12 739.46Z" fill="#0000E6"/>
<path d="M333.11 765.14L343.71 765.14L338.41 755.46Z" fill="#0000E6"/>
<path d="M395.68 947.74L406.28 947.74L400.98 938.06Z" fill="#0000E6"/>
<path d="M426.96 898.54L437.56 898.54L432.26 888.86Z" fill="#0000E6"/>
</g>
<g id="axes" stroke-linecap="butt">
<line x1="91.05" y1="627.91" x2="102.05" y2="627.91" stroke="#000" stroke-width="1.2" />
<line x1="731.30" y1="627.91" x2="742.30" y2="627.91" stroke="#000" stroke-width="1.2" />
<line x1="91.05" y1="619.57" x2="113.05" y2="619.57" stroke="#000" stroke-width="1.2" />
<line x1="720.30" y1="619.57" x2="742.30" y2="619.57" stroke="#000" stroke-width="1.2" />
<line x1="91.05" y1="564.67" x2="102.05" y2="564.67" stroke="#000" stroke-width="1.2" />
<line x1="731.30" y1="564.67" x2="742.30" y2="564.67" stroke="#000" stroke-width="1.2" />
<line x1="91.05" y1="532.56" x2="102.05" y2="532.56" stroke="#000" stroke-width="1.2" />
<line x1="731.30" y1="532.56" x2="742.30" y2="532.56" stroke="#000" stroke-width="1.2" />
<line x1="91.05" y1="509.77" x2="102.05" y2="509.77" stroke="#000" stroke-width="1.2" />
<line x1="731.30" y1="509.77" x2="742.30" y2="509.77" stroke="#000" stroke-width="1.2" />
<line x1="91.05" y1="492.10" x2="102.05" y2="492.10" stroke="#000" stroke-width="1.2" />
<line x1="731.30" y1="492.10" x2="742.30" y2="492.10" stroke="#000" stroke-width="1.2" />
<line x1="91.05" y1="477.66" x2="102.05" y2="477.66" stroke="#000" stroke-width="1.2" />
<line x1="731.30" y1="477.66" x2="742.30" y2="477.66" stroke="#000" stroke-width="1.2" />
<line x1="91.05" y1="465.45" x2="102.05" y2="465.45" stroke="#000" stroke-width="1.2" />
<line x1="731.30" y1="465.45" x2="742.30" y2="465.45" stroke="#000" stroke-width="1.2" />
<line x1="91.05" y1="454.87" x2="102.05" y2="454.87" stroke="#000" stroke-width="1.2" />
<line x1="731.30" y1="454.87" x2="742.30" y2="454.87" stroke="#000" stroke-width="1.2" />
<line x1="91.05" y1="445.54" x2="102.05" y2="445.54" stroke="#000" stroke-width="1.2" />
<line x1="731.30" y1="445.54" x2="742.30" y2="445.54" stroke="#000" stroke-width="1.2" />
<line x1="91.05" y1="437.20" x2="113.05" y2="437.20" stroke="#000" stroke-width="1.2" />
<line x1="720.30" y1="437.20" x2="742.30" y2="437.20" stroke="#000" stroke-width="1.2" />
<line x1="91.05" y1="382.30" x2="102.05" y2="382.30" stroke="#000" stroke-width="1.2" />
<line x1="731.30" y1="382.30" x2="742.30" y2="382.30" stroke="#000" stroke-width="1.2" />
<line x1="91.05" y1="350.19" x2="102.05" y2="350.19" stroke="#000" stroke-width="1.2" />
<line x1="731.30" y1="350.19" x2="742.30" y2="350.19" stroke="#000" stroke-width="1.2" />
<line x1="91.05" y1="327.40" x2="102.05" y2="327.40" stroke="#000" stroke-width="1.2" />
<line x1="731.30" y1="327.40" x2="742.30" y2="327.40" stroke="#000" stroke-width="1.2" />
<line x1="91.05" y1="309.73" x2="102.05" y2="309.73" stroke="#000" stroke-width="1.2" />
<line x1="731.30" y1="309.73" x2="742.30" y2="309.73" stroke="#000" stroke-width="1.2" />
<line x1="91.05" y1="295.29" x2="102.05" y2="295.29" stroke="#000" stroke-width="1.2" />
<line x1="731.30" y1="295.29" x2="742.30" y2="295.29" stroke="#000" stroke-width="1.2" />
<line x1="91.05" y1="283.08" x2="102.05" y2="283.08" stroke="#000" stroke-width="1.2" />
<line x1="731.30" y1="283.08" x2="742.30" y2="283.08" stroke="#000" stroke-width="1.2" />
<line x1="91.05" y1="272.50" x2="102.05" y2="272.50" stroke="#000" stroke-width="1.2" />
<line x1="731.30" y1="272.50" x2="742.30" y2="272.50" stroke="#000" stroke-width="1.2" />
<line x1="91.05" y1="263.17" x2="102.05" y2="263.17" stroke="#000" stroke-width="1.2" />
<line x1="731.30" y1="263.17" x2="742.30" y2="263.17" stroke="#000" stroke-width="1.2" />
<line x1="91.05" y1="254.83" x2="113.05" y2="254.83" stroke="#000" stroke-width="1.2" />
<line x1="720.30" y1="254.83" x2="742.30" y2="254.83" stroke="#000" stroke-width="1.2" />
<line x1="91.05" y1="199.93" x2="102.05" y2="199.93" stroke="#000" stroke-width="1.2" />
<line x1="731.30" y1="199.93" x2="742.30" y2="199.93" stroke="#000" stroke-width="1.2" />
<line x1="91.05" y1="167.82" x2="102.05" y2="167.82" stroke="#000" stroke-width="1.2" />
<line x1="731.30" y1="167.82" x2="742.30" y2="167.82" stroke="#000" stroke-width="1.2" />
<line x1="91.05" y1="145.03" x2="102.05" y2="145.03" stroke="#000" stroke-width="1.2" />
<line x1="731.30" y1="145.03" x2="742.30" y2="145.03" stroke="#000" stroke-width="1.2" />
<line x1="91.05" y1="127.36" x2="102.05" y2="127.36" stroke="#000" stroke-width="1.2" />
<line x1="731.30" y1="127.36" x2="742.30" y2="127.36" stroke="#000" stroke-width="1.2" />
<line x1="91.05" y1="112.92" x2="102.05" y2="112.92" stroke="#000" stroke-width="1.2" />
<line x1="731.30" y1="112.92" x2="742.30" y2="112.92" stroke="#000" stroke-width="1.2" />
<line x1="91.05" y1="100.71" x2="102.05" y2="100.71" stroke="#000" stroke-width="1.2" />
<line x1="731.30" y1="100.71" x2="742.30" y2="100.71" stroke="#000" stroke-width="1.2" />
<line x1="91.05" y1="90.13" x2="102.05" y2="90.13" stroke="#000" stroke-width="1.2" />
<line x1="731.30" y1="90.13" x2="742.30" y2="90.13" stroke="#000" stroke-width="1.2" />
<line x1="91.05" y1="80.80" x2="102.05" y2="80.80" stroke="#000" stroke-width="1.2" />
<line x1="731.30" y1="80.80" x2="742.30" y2="80.80" stroke="#000" stroke-width="1.2" />
<line x1="91.05" y1="72.46" x2="113.05" y2="72.46" stroke="#000" stroke-width="1.2" />
<line x1="720.30" y1="72.46" x2="742.30" y2="72.46" stroke="#000" stroke-width="1.2" />
<line x1="91.05" y1="917.02" x2="105.05" y2="917.02" stroke="#000" stroke-width="1.2" />
<line x1="728.30" y1="917.02" x2="742.30" y2="917.02" stroke="#000" stroke-width="1.2" />
<line x1="91.05" y1="885.03" x2="101.05" y2="885.03" stroke="#000" stroke-width="1.2" />
<line x1="732.30" y1="885.03" x2="742.30" y2="885.03" stroke="#000" stroke-width="1.2" />
<line x1="91.05" y1="857.98" x2="101.05" y2="857.98" stroke="#000" stroke-width="1.2" />
<line x1="732.30" y1="857.98" x2="742.30" y2="857.98" stroke="#000" stroke-width="1.2" />
<line x1="91.05" y1="834.55" x2="101.05" y2="834.55" stroke="#000" stroke-width="1.2" />
<line x1="732.30" y1="834.55" x2="742.30" y2="834.55" stroke="#000" stroke-width="1.2" />
<line x1="91.05" y1="813.89" x2="101.05" y2="813.89" stroke="#000" stroke-width="1.2" />
<line x1="732.30" y1="813.89" x2="742.30" y2="813.89" stroke="#000" stroke-width="1.2" />
<line x1="91.05" y1="778.68" x2="101.05" y2="778.68" stroke="#000" stroke-width="1.2" />
<line x1="732.30" y1="778.68" x2="742.30" y2="778.68" stroke="#000" stroke-width="1.2" />
<line x1="91.05" y1="763.41" x2="101.05" y2="763.41" stroke="#000" stroke-width="1.2" />
<line x1="732.30" y1="763.41" x2="742.30" y2="763.41" stroke="#000" stroke-width="1.2" />
<line x1="91.05" y1="749.37" x2="101.05" y2="749.37" stroke="#000" stroke-width="1.2" />
<line x1="732.30" y1="749.37" x2="742.30" y2="749.37" stroke="#000" stroke-width="1.2" />
<line x1="91.05" y1="736.36" x2="101.05" y2="736.36" stroke="#000" stroke-width="1.2" />
<line x1="732.30" y1="736.36" x2="742.30" y2="736.36" stroke="#000" stroke-width="1.2" />
<line x1="91.05" y1="724.26" x2="105.05" y2="724.26" stroke="#000" stroke-width="1.2" />
<line x1="728.30" y1="724.26" x2="742.30" y2="724.26" stroke="#000" stroke-width="1.2" />
<line x1="91.05" y1="712.94" x2="101.05" y2="712.94" stroke="#000" stroke-width="1.2" />
<line x1="732.30" y1="712.94" x2="742.30" y2="712.94" stroke="#000" stroke-width="1.2" />
<line x1="91.05" y1="702.30" x2="101.05" y2="702.30" stroke="#000" stroke-width="1.2" />
<line x1="732.30" y1="702.30" x2="742.30" y2="702.30" stroke="#000" stroke-width="1.2" />
<line x1="91.05" y1="692.27" x2="101.05" y2="692.27" stroke="#000" stroke-width="1.2" />
<line x1="732.30" y1="692.27" x2="742.30" y2="692.27" stroke="#000" stroke-width="1.2" />
<line x1="91.05" y1="682.78" x2="101.05" y2="682.78" stroke="#000" stroke-width="1.2" />
<line x1="732.30" y1="682.78" x2="742.30" y2="682.78" stroke="#000" stroke-width="1.2" />
<line x1="91.05" y1="673.78" x2="105.05" y2="673.78" stroke="#000" stroke-width="1.2" />
<line x1="728.30" y1="673.78" x2="742.30" y2="673.78" stroke="#000" stroke-width="1.2" />
<line x1="91.05" y1="665.22" x2="101.05" y2="665.22" stroke="#000" stroke-width="1.2" />
<line x1="732.30" y1="665.22" x2="742.30" y2="665.22" stroke="#000" stroke-width="1.2" />
<line x1="91.05" y1="657.06" x2="101.05" y2="657.06" stroke="#000" stroke-width="1.2" />
<line x1="732.30" y1="657.06" x2="742.30" y2="657.06" stroke="#000" stroke-width="1.2" />
<line x1="91.05" y1="649.26" x2="101.05" y2="649.26" stroke="#000" stroke-width="1.2" />
<line x1="732.30" y1="649.26" x2="742.30" y2="649.26" stroke="#000" stroke-width="1.2" />
<line x1="91.05" y1="641.79" x2="101.05" y2="641.79" stroke="#000" stroke-width="1.2" />
<line x1="732.30" y1="641.79" x2="742.30" y2="641.79" stroke="#000" stroke-width="1.2" />
<line x1="91.05" y1="795.40" x2="105.05" y2="795.40" stroke="#000" stroke-width="1.2" />
<line x1="728.30" y1="795.40" x2="742.30" y2="795.40" stroke="#000" stroke-width="1.2" />
<line x1="103.76" y1="34.85" x2="103.76" y2="50.85" stroke="#000" stroke-width="1.9" />
<line x1="103.76" y1="619.00" x2="103.76" y2="644.50" stroke="#000" stroke-width="1.9" />
<line x1="103.76" y1="946.30" x2="103.76" y2="955.90" stroke="#000" stroke-width="1.9" />
<line x1="119.40" y1="34.85" x2="119.40" y2="39.25" stroke="#000" stroke-width="1.4" />
<line x1="119.40" y1="631.00" x2="119.40" y2="637.70" stroke="#000" stroke-width="1.4" />
<line x1="119.40" y1="953.10" x2="119.40" y2="955.90" stroke="#000" stroke-width="1.4" />
<line x1="135.05" y1="34.85" x2="135.05" y2="42.85" stroke="#000" stroke-width="1.5" />
<line x1="135.05" y1="627.00" x2="135.05" y2="639.70" stroke="#000" stroke-width="1.5" />
<line x1="135.05" y1="951.20" x2="135.05" y2="955.90" stroke="#000" stroke-width="1.5" />
<line x1="150.69" y1="34.85" x2="150.69" y2="39.25" stroke="#000" stroke-width="1.4" />
<line x1="150.69" y1="631.00" x2="150.69" y2="637.70" stroke="#000" stroke-width="1.4" />
<line x1="150.69" y1="953.10" x2="150.69" y2="955.90" stroke="#000" stroke-width="1.4" />
<line x1="166.33" y1="34.85" x2="166.33" y2="42.85" stroke="#000" stroke-width="1.5" />
<line x1="166.33" y1="627.00" x2="166.33" y2="639.70" stroke="#000" stroke-width="1.5" />
<line x1="166.33" y1="951.20" x2="166.33" y2="955.90" stroke="#000" stroke-width="1.5" />
<line x1="181.98" y1="34.85" x2="181.98" y2="39.25" stroke="#000" stroke-width="1.4" />
<line x1="181.98" y1="631.00" x2="181.98" y2="637.70" stroke="#000" stroke-width="1.4" />
<line x1="181.98" y1="953.10" x2="181.98" y2="955.90" stroke="#000" stroke-width="1.4" />
<line x1="197.62" y1="34.85" x2="197.62" y2="42.85" stroke="#000" stroke-width="1.5" />
<line x1="197.62" y1="627.00" x2="197.62" y2="639.70" stroke="#000" stroke-width="1.5" />
<line x1="197.62" y1="951.20" x2="197.62" y2="955.90" stroke="#000" stroke-width="1.5" />
<line x1="213.26" y1="34.85" x2="213.26" y2="39.25" stroke="#000" stroke-width="1.4" />
<line x1="213.26" y1="631.00" x2="213.26" y2="637.70" stroke="#000" stroke-width="1.4" />
<line x1="213.26" y1="953.10" x2="213.26" y2="955.90" stroke="#000" stroke-width="1.4" />
<line x1="228.90" y1="34.85" x2="228.90" y2="42.85" stroke="#000" stroke-width="1.5" />
<line x1="228.90" y1="627.00" x2="228.90" y2="639.70" stroke="#000" stroke-width="1.5" />
<line x1="228.90" y1="951.20" x2="228.90" y2="955.90" stroke="#000" stroke-width="1.5" />
<line x1="244.55" y1="34.85" x2="244.55" y2="39.25" stroke="#000" stroke-width="1.4" />
<line x1="244.55" y1="631.00" x2="244.55" y2="637.70" stroke="#000" stroke-width="1.4" />
<line x1="244.55" y1="953.10" x2="244.55" y2="955.90" stroke="#000" stroke-width="1.4" />
<line x1="260.19" y1="34.85" x2="260.19" y2="50.85" stroke="#000" stroke-width="1.9" />
<line x1="260.19" y1="619.00" x2="260.19" y2="644.50" stroke="#000" stroke-width="1.9" />
<line x1="260.19" y1="946.30" x2="260.19" y2="955.90" stroke="#000" stroke-width="1.9" />
<line x1="275.83" y1="34.85" x2="275.83" y2="39.25" stroke="#000" stroke-width="1.4" />
<line x1="275.83" y1="631.00" x2="275.83" y2="637.70" stroke="#000" stroke-width="1.4" />
<line x1="275.83" y1="953.10" x2="275.83" y2="955.90" stroke="#000" stroke-width="1.4" />
<line x1="291.48" y1="34.85" x2="291.48" y2="42.85" stroke="#000" stroke-width="1.5" />
<line x1="291.48" y1="627.00" x2="291.48" y2="639.70" stroke="#000" stroke-width="1.5" />
<line x1="291.48" y1="951.20" x2="291.48" y2="955.90" stroke="#000" stroke-width="1.5" />
<line x1="307.12" y1="34.85" x2="307.12" y2="39.25" stroke="#000" stroke-width="1.4" />
<line x1="307.12" y1="631.00" x2="307.12" y2="637.70" stroke="#000" stroke-width="1.4" />
<line x1="307.12" y1="953.10" x2="307.12" y2="955.90" stroke="#000" stroke-width="1.4" />
<line x1="322.76" y1="34.85" x2="322.76" y2="42.85" stroke="#000" stroke-width="1.5" />
<line x1="322.76" y1="627.00" x2="322.76" y2="639.70" stroke="#000" stroke-width="1.5" />
<line x1="322.76" y1="951.20" x2="322.76" y2="955.90" stroke="#000" stroke-width="1.5" />
<line x1="338.41" y1="34.85" x2="338.41" y2="39.25" stroke="#000" stroke-width="1.4" />
<line x1="338.41" y1="631.00" x2="338.41" y2="637.70" stroke="#000" stroke-width="1.4" />
<line x1="338.41" y1="953.10" x2="338.41" y2="955.90" stroke="#000" stroke-width="1.4" />
<line x1="354.05" y1="34.85" x2="354.05" y2="42.85" stroke="#000" stroke-width="1.5" />
<line x1="354.05" y1="627.00" x2="354.05" y2="639.70" stroke="#000" stroke-width="1.5" />
<line x1="354.05" y1="951.20" x2="354.05" y2="955.90" stroke="#000" stroke-width="1.5" />
<line x1="369.69" y1="34.85" x2="369.69" y2="39.25" stroke="#000" stroke-width="1.4" />
<line x1="369.69" y1="631.00" x2="369.69" y2="637.70" stroke="#000" stroke-width="1.4" />
<line x1="369.69" y1="953.10" x2="369.69" y2="955.90" stroke="#000" stroke-width="1.4" />
<line x1="385.33" y1="34.85" x2="385.33" y2="42.85" stroke="#000" stroke-width="1.5" />
<line x1="385.33" y1="627.00" x2="385.33" y2="639.70" stroke="#000" stroke-width="1.5" />
<line x1="385.33" y1="951.20" x2="385.33" y2="955.90" stroke="#000" stroke-width="1.5" />
<line x1="400.98" y1="34.85" x2="400.98" y2="39.25" stroke="#000" stroke-width="1.4" />
<line x1="400.98" y1="631.00" x2="400.98" y2="637.70" stroke="#000" stroke-width="1.4" />
<line x1="400.98" y1="953.10" x2="400.98" y2="955.90" stroke="#000" stroke-width="1.4" />
<line x1="416.62" y1="34.85" x2="416.62" y2="50.85" stroke="#000" stroke-width="1.9" />
<line x1="416.62" y1="619.00" x2="416.62" y2="644.50" stroke="#000" stroke-width="1.9" />
<line x1="416.62" y1="946.30" x2="416.62" y2="955.90" stroke="#000" stroke-width="1.9" />
<line x1="432.26" y1="34.85" x2="432.26" y2="39.25" stroke="#000" stroke-width="1.4" />
<line x1="432.26" y1="631.00" x2="432.26" y2="637.70" stroke="#000" stroke-width="1.4" />
<line x1="432.26" y1="953.10" x2="432.26" y2="955.90" stroke="#000" stroke-width="1.4" />
<line x1="447.91" y1="34.85" x2="447.91" y2="42.85" stroke="#000" stroke-width="1.5" />
<line x1="447.91" y1="627.00" x2="447.91" y2="639.70" stroke="#000" stroke-width="1.5" />
<line x1="447.91" y1="951.20" x2="447.91" y2="955.90" stroke="#000" stroke-width="1.5" />
<line x1="463.55" y1="34.85" x2="463.55" y2="39.25" stroke="#000" stroke-width="1.4" />
<line x1="463.55" y1="631.00" x2="463.55" y2="637.70" stroke="#000" stroke-width="1.4" />
<line x1="463.55" y1="953.10" x2="463.55" y2="955.90" stroke="#000" stroke-width="1.4" />
<line x1="479.19" y1="34.85" x2="479.19" y2="42.85" stroke="#000" stroke-width="1.5" />
<line x1="479.19" y1="627.00" x2="479.19" y2="639.70" stroke="#000" stroke-width="1.5" />
<line x1="479.19" y1="951.20" x2="479.19" y2="955.90" stroke="#000" stroke-width="1.5" />
<line x1="494.83" y1="34.85" x2="494.83" y2="39.25" stroke="#000" stroke-width="1.4" />
<line x1="494.83" y1="631.00" x2="494.83" y2="637.70" stroke="#000" stroke-width="1.4" />
<line x1="494.83" y1="953.10" x2="494.83" y2="955.90" stroke="#000" stroke-width="1.4" />
<line x1="510.48" y1="34.85" x2="510.48" y2="42.85" stroke="#000" stroke-width="1.5" />
<line x1="510.48" y1="627.00" x2="510.48" y2="639.70" stroke="#000" stroke-width="1.5" />
<line x1="510.48" y1="951.20" x2="510.48" y2="955.90" stroke="#000" stroke-width="1.5" />
<line x1="526.12" y1="34.85" x2="526.12" y2="39.25" stroke="#000" stroke-width="1.4" />
<line x1="526.12" y1="631.00" x2="526.12" y2="637.70" stroke="#000" stroke-width="1.4" />
<line x1="526.12" y1="953.10" x2="526.12" y2="955.90" stroke="#000" stroke-width="1.4" />
<line x1="541.76" y1="34.85" x2="541.76" y2="42.85" stroke="#000" stroke-width="1.5" />
<line x1="541.76" y1="627.00" x2="541.76" y2="639.70" stroke="#000" stroke-width="1.5" />
<line x1="541.76" y1="951.20" x2="541.76" y2="955.90" stroke="#000" stroke-width="1.5" />
<line x1="557.41" y1="34.85" x2="557.41" y2="39.25" stroke="#000" stroke-width="1.4" />
<line x1="557.41" y1="631.00" x2="557.41" y2="637.70" stroke="#000" stroke-width="1.4" />
<line x1="557.41" y1="953.10" x2="557.41" y2="955.90" stroke="#000" stroke-width="1.4" />
<line x1="573.05" y1="34.85" x2="573.05" y2="50.85" stroke="#000" stroke-width="1.9" />
<line x1="573.05" y1="619.00" x2="573.05" y2="644.50" stroke="#000" stroke-width="1.9" />
<line x1="573.05" y1="946.30" x2="573.05" y2="955.90" stroke="#000" stroke-width="1.9" />
<line x1="588.69" y1="34.85" x2="588.69" y2="39.25" stroke="#000" stroke-width="1.4" />
<line x1="588.69" y1="631.00" x2="588.69" y2="637.70" stroke="#000" stroke-width="1.4" />
<line x1="588.69" y1="953.10" x2="588.69" y2="955.90" stroke="#000" stroke-width="1.4" />
<line x1="604.34" y1="34.85" x2="604.34" y2="42.85" stroke="#000" stroke-width="1.5" />
<line x1="604.34" y1="627.00" x2="604.34" y2="639.70" stroke="#000" stroke-width="1.5" />
<line x1="604.34" y1="951.20" x2="604.34" y2="955.90" stroke="#000" stroke-width="1.5" />
<line x1="619.98" y1="34.85" x2="619.98" y2="39.25" stroke="#000" stroke-width="1.4" />
<line x1="619.98" y1="631.00" x2="619.98" y2="637.70" stroke="#000" stroke-width="1.4" />
<line x1="619.98" y1="953.10" x2="619.98" y2="955.90" stroke="#000" stroke-width="1.4" />
<line x1="635.62" y1="34.85" x2="635.62" y2="42.85" stroke="#000" stroke-width="1.5" />
<line x1="635.62" y1="627.00" x2="635.62" y2="639.70" stroke="#000" stroke-width="1.5" />
<line x1="635.62" y1="951.20" x2="635.62" y2="955.90" stroke="#000" stroke-width="1.5" />
<line x1="651.26" y1="34.85" x2="651.26" y2="39.25" stroke="#000" stroke-width="1.4" />
<line x1="651.26" y1="631.00" x2="651.26" y2="637.70" stroke="#000" stroke-width="1.4" />
<line x1="651.26" y1="953.10" x2="651.26" y2="955.90" stroke="#000" stroke-width="1.4" />
<line x1="666.91" y1="34.85" x2="666.91" y2="42.85" stroke="#000" stroke-width="1.5" />
<line x1="666.91" y1="627.00" x2="666.91" y2="639.70" stroke="#000" stroke-width="1.5" />
<line x1="666.91" y1="951.20" x2="666.91" y2="955.90" stroke="#000" stroke-width="1.5" />
<line x1="682.55" y1="34.85" x2="682.55" y2="39.25" stroke="#000" stroke-width="1.4" />
<line x1="682.55" y1="631.00" x2="682.55" y2="637.70" stroke="#000" stroke-width="1.4" />
<line x1="682.55" y1="953.10" x2="682.55" y2="955.90" stroke="#000" stroke-width="1.4" />
<line x1="698.19" y1="34.85" x2="698.19" y2="42.85" stroke="#000" stroke-width="1.5" />
<line x1="698.19" y1="627.00" x2="698.19" y2="639.70" stroke="#000" stroke-width="1.5" />
<line x1="698.19" y1="951.20" x2="698.19" y2="955.90" stroke="#000" stroke-width="1.5" />
<line x1="713.84" y1="34.85" x2="713.84" y2="39.25" stroke="#000" stroke-width="1.4" />
<line x1="713.84" y1="631.00" x2="713.84" y2="637.70" stroke="#000" stroke-width="1.4" />
<line x1="713.84" y1="953.10" x2="713.84" y2="955.90" stroke="#000" stroke-width="1.4" />
<line x1="729.48" y1="34.85" x2="729.48" y2="50.85" stroke="#000" stroke-width="1.9" />
<line x1="729.48" y1="619.00" x2="729.48" y2="644.50" stroke="#000" stroke-width="1.9" />
<line x1="729.48" y1="946.30" x2="729.48" y2="955.90" stroke="#000" stroke-width="1.9" />
<line x1="91.05" y1="33.85" x2="91.05" y2="956.90" stroke="#000" stroke-width="2" />
<line x1="742.30" y1="33.85" x2="742.30" y2="956.90" stroke="#000" stroke-width="1.9" />
<line x1="90.05" y1="34.85" x2="743.30" y2="34.85" stroke="#000" stroke-width="2" />
<line x1="90.05" y1="955.90" x2="743.30" y2="955.90" stroke="#000" stroke-width="2.1" />
<line x1="91.05" y1="635.00" x2="742.30" y2="635.00" stroke="#000" stroke-width="2.5" />
</g>
<clipPath id="k1"><rect x="-10" y="-29.83" width="600" height="27.22"/><rect x="6.28" y="-3.11" width="2.11" height="3.21"/><rect x="13.82" y="-3.11" width="600" height="15.04"/></clipPath>
<text transform="translate(102.61,28.80) scale(0.9748,1)" font-size="24.85" fill="#000" font-family="'Liberation Sans', sans-serif" clip-path="url(#k1)">1960 GeV ppbar</text>
<text transform="translate(550.90,28.80) scale(0.9686,1)" font-size="24.85" fill="#000" font-family="'Liberation Sans', sans-serif">Underlying Event</text>
<text transform="translate(212.02,85.40) scale(0.9782,1)" font-size="24.71" fill="#000" font-family="'Liberation Sans', sans-serif">Toward region charged particle density</text>
<text transform="translate(187.17,155.70) scale(0.9922,1)" font-size="19.04" fill="#000" font-family="'Liberation Sans', sans-serif">Epos 1.99.crmc.1.6.0 lhc</text>
<text transform="translate(186.70,129.70) scale(1.0075,1)" font-size="19.04" fill="#000" font-family="'Liberation Sans', sans-serif">CDF</text>
<text transform="translate(187.22,182.20) scale(0.9956,1)" font-size="19.04" fill="#000" font-family="'Liberation Sans', sans-serif">Herwig 7.2.1 softTune</text>
<text transform="translate(187.22,208.60) scale(0.9925,1)" font-size="19.04" fill="#000" font-family="'Liberation Sans', sans-serif">Pythia 6.428 370</text>
<text transform="translate(187.22,234.10) scale(0.9946,1)" font-size="19.04" fill="#000" font-family="'Liberation Sans', sans-serif">Pythia 8.315 default</text>
<text transform="translate(339.96,603.50) scale(1.0341,1)" font-size="15.26" fill="#989898" font-family="'Liberation Sans', sans-serif">(CDF_2010_I849042)</text>
<text transform="translate(762.00,628.99) rotate(-90) scale(0.9592,1)" font-size="19.77" fill="#747474" font-family="'Liberation Sans', sans-serif">mcplots.cern.ch [arXiv:2401.10621]</text>
<text transform="translate(760.10,254.37) rotate(-90) scale(0.9534,1)" font-size="19.77" fill="#747474" font-family="'Liberation Sans', sans-serif">Rivet 4.1.0, ≥ 600k events</text>
<text transform="translate(36.00,844.29) rotate(-90) scale(0.9568,1)" font-size="18.60" fill="#000" font-family="'Liberation Sans', sans-serif">Ratio to CDF</text>
<text transform="translate(97.23,978.30) scale(0.9680,1)" font-size="24.27" fill="#000" font-family="'Liberation Sans', sans-serif">0</text>
<text transform="translate(247.12,978.30) scale(0.9680,1)" font-size="24.27" fill="#000" font-family="'Liberation Sans', sans-serif">50</text>
<clipPath id="k2"><rect x="-10" y="-29.13" width="600" height="26.58"/><rect x="6.13" y="-3.05" width="2.06" height="3.15"/><rect x="13.50" y="-3.05" width="600" height="14.69"/></clipPath>
<text transform="translate(397.02,978.30) scale(0.9680,1)" font-size="24.27" fill="#000" font-family="'Liberation Sans', sans-serif" clip-path="url(#k2)">100</text>
<clipPath id="k3"><rect x="-10" y="-29.13" width="600" height="26.58"/><rect x="6.13" y="-3.05" width="2.06" height="3.15"/><rect x="13.50" y="-3.05" width="600" height="14.69"/></clipPath>
<text transform="translate(553.45,978.30) scale(0.9680,1)" font-size="24.27" fill="#000" font-family="'Liberation Sans', sans-serif" clip-path="url(#k3)">150</text>
<text transform="translate(709.88,978.30) scale(0.9680,1)" font-size="24.27" fill="#000" font-family="'Liberation Sans', sans-serif">200</text>
<text transform="translate(64.08,682.90) scale(0.9680,1)" font-size="24.27" fill="#000" font-family="'Liberation Sans', sans-serif">2</text>
<text transform="translate(747.30,683.00) scale(0.9680,1)" font-size="24.27" fill="#000" font-family="'Liberation Sans', sans-serif">2</text>
<clipPath id="k4"><rect x="-10" y="-29.13" width="600" height="26.58"/><rect x="6.13" y="-3.05" width="2.06" height="3.15"/><rect x="13.50" y="-3.05" width="600" height="14.69"/></clipPath>
<text transform="translate(67.93,804.80) scale(0.9680,1)" font-size="24.27" fill="#000" font-family="'Liberation Sans', sans-serif" clip-path="url(#k4)">1</text>
<clipPath id="k5"><rect x="-10" y="-29.13" width="600" height="26.58"/><rect x="6.13" y="-3.05" width="2.06" height="3.15"/><rect x="13.50" y="-3.05" width="600" height="14.69"/></clipPath>
<text transform="translate(748.53,804.80) scale(0.9680,1)" font-size="24.27" fill="#000" font-family="'Liberation Sans', sans-serif" clip-path="url(#k5)">1</text>
<text transform="translate(43.99,925.00) scale(0.9680,1)" font-size="24.27" fill="#000" font-family="'Liberation Sans', sans-serif">0.5</text>
<text transform="translate(747.97,925.00) scale(0.9680,1)" font-size="24.27" fill="#000" font-family="'Liberation Sans', sans-serif">0.5</text>
<clipPath id="k6"><rect x="-10" y="-27.91" width="600" height="25.47"/><rect x="5.87" y="-2.94" width="1.98" height="3.04"/><rect x="12.93" y="-2.94" width="600" height="14.07"/></clipPath>
<text transform="translate(54.02,264.20) scale(0.9680,1)" font-size="23.26" fill="#000" font-family="'Liberation Sans', sans-serif" clip-path="url(#k6)">10</text>
<clipPath id="k7"><rect x="-10" y="-27.73" width="600" height="25.31"/><rect x="5.84" y="-2.93" width="1.96" height="3.03"/><rect x="12.85" y="-2.93" width="600" height="13.98"/></clipPath>
<text transform="translate(71.61,445.70) scale(0.9680,1)" font-size="23.11" fill="#000" font-family="'Liberation Sans', sans-serif" clip-path="url(#k7)">1</text>
<clipPath id="k8"><rect x="-10" y="-27.91" width="600" height="25.47"/><rect x="5.87" y="-2.94" width="1.98" height="3.04"/><rect x="12.93" y="-2.94" width="600" height="14.07"/></clipPath>
<text transform="translate(46.02,83.20) scale(0.9680,1)" font-size="23.26" fill="#000" font-family="'Liberation Sans', sans-serif" clip-path="url(#k8)">10</text>
<text transform="translate(71.33,72.75) scale(1.0000,1)" font-size="14.68" fill="#000" font-family="'Liberation Sans', sans-serif">2</text>
<clipPath id="k9"><rect x="-10" y="-27.91" width="600" height="25.47"/><rect x="5.87" y="-2.94" width="1.98" height="3.04"/><rect x="12.93" y="-2.94" width="600" height="14.07"/></clipPath>
<text transform="translate(39.92,629.85) scale(0.9680,1)" font-size="23.26" fill="#000" font-family="'Liberation Sans', sans-serif" clip-path="url(#k9)">10</text>
<clipPath id="k10"><rect x="-10" y="-17.62" width="600" height="16.07"/><rect x="3.71" y="-2.04" width="1.25" height="2.14"/><rect x="8.16" y="-2.04" width="600" height="8.88"/></clipPath>
<text transform="translate(74.38,620.80) scale(1.0000,1)" font-size="14.68" fill="#000" font-family="'Liberation Sans', sans-serif" clip-path="url(#k10)">1</text>
<text transform="translate(502.57,1002.70) scale(1.0238,1)" font-size="25.44" fill="#000" font-family="'Liberation Sans', sans-serif">p</text>
<text transform="translate(517.34,1016.20) scale(1.0372,1)" font-size="15.84" fill="#000" font-family="'Liberation Sans', sans-serif">T</text>
<text transform="translate(528.84,1002.70) scale(0.9732,1)" font-size="25.44" fill="#000" font-family="'Liberation Sans', sans-serif">({leading jet}) / GeV</text>
<text transform="translate(64.9,620.8) scale(1.05,1)" font-size="14.6">−</text>
<rect x="147.50" y="119.00" width="11.00" height="11.00" fill="#000"/>
<line x1="128.70" y1="150.10" x2="177.30" y2="150.10" stroke="#FF7B7B" stroke-width="1.4" />
<path d="M151.35 145.50H154.75V148.40H157.65V151.80H154.75V154.70H151.35V151.80H148.45V148.40H151.35Z" fill="none" stroke="#FF7B7B" stroke-width="1.1"/>
<line x1="128.70" y1="176.40" x2="177.30" y2="176.40" stroke="#1B5A66" stroke-width="1.4" />
<path d="M147.65 171.20L158.45 171.20L153.05 181.60Z" fill="#1B5A66"/>
<line x1="128.70" y1="202.30" x2="177.30" y2="202.30" stroke="#9B0020" stroke-width="1.4" />
<path d="M147.45 208.10L158.65 208.10L153.05 196.50Z" fill="none" stroke="#9B0020" stroke-width="1.4" stroke-linejoin="miter"/>
<line x1="128.70" y1="228.60" x2="177.30" y2="228.60" stroke="#0000E6" stroke-width="1.4" />
<path d="M147.75 233.80L158.35 233.80L153.05 223.40Z" fill="#0000E6"/>
<g transform="translate(29.4,198.8) rotate(-90)" font-size="25.9">
<text transform="translate(0.0,0) scale(0.955,1)">#</text>
<text transform="translate(12.2,0) scale(1.0,1)" font-size="23.9" font-family="'DejaVu Sans', sans-serif">⟨</text>
<text transform="translate(27.9,0) scale(0.955,1)">N</text>
<text transform="translate(44.1,10.6) scale(0.98,1)" font-size="16.3">ch</text>
<text transform="translate(66.4,0) scale(0.955,1)">#</text>
<text transform="translate(79.0,0) scale(1.0,1)" font-size="23.9" font-family="'DejaVu Sans', sans-serif">⟩</text>
<text transform="translate(94.1,0) scale(0.955,1)">/</text>
<text transform="translate(107.2,0) scale(0.955,1)">d</text>
<text transform="translate(118.4,0) scale(0.955,1)">η</text>
<text transform="translate(138.8,0) scale(0.955,1)">d</text>
<text transform="translate(150.5,0) scale(0.955,1)">ϕ</text>
</g>
</svg>
</body></html>
